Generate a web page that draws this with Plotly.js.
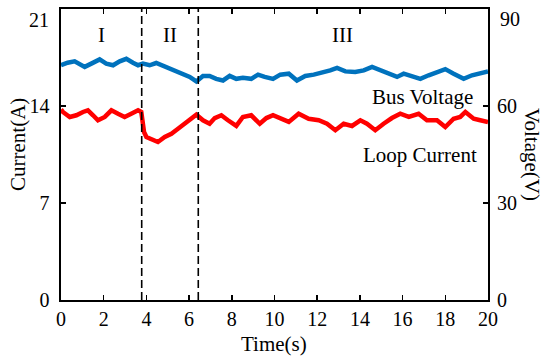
<!DOCTYPE html>
<html>
<head>
<meta charset="utf-8">
<script src="https://cdn.plot.ly/plotly-3.0.1.min.js"></script>
<style>html,body{margin:0;padding:0;background:#fff}#chart{width:550px;height:363px}</style>
</head>
<body>
<div id="chart"></div>
<script>
// Bus voltage (V)
const busTime = [0.0, 0.31, 0.64, 0.95, 1.11, 1.42, 1.81, 2.12, 2.44, 2.75, 3.06, 3.37, 3.61, 3.84, 4.15, 4.46, 4.78, 5.09, 5.40, 5.71, 6.03, 6.34, 6.65, 6.96, 7.27, 7.59, 7.90, 8.21, 8.52, 8.91, 9.23, 9.54, 9.93, 10.27, 10.67, 11.05, 11.44, 11.84, 12.22, 12.61, 12.93, 13.32, 13.78, 14.18, 14.57, 14.96, 15.35, 15.74, 16.05, 16.44, 16.83, 17.22, 17.61, 18.0, 18.39, 18.86, 19.25, 19.64, 20.0];
const busVoltage = [72.6, 73.4, 73.8, 72.8, 72.1, 73.1, 74.4, 73.1, 72.6, 73.8, 74.6, 73.4, 72.6, 73.1, 72.6, 73.3, 72.4, 71.5, 70.7, 70.0, 69.0, 67.6, 69.3, 69.3, 68.4, 67.9, 69.3, 68.4, 68.7, 68.4, 69.7, 69.0, 68.4, 69.7, 70.0, 67.9, 69.3, 69.7, 70.3, 71.0, 71.8, 70.7, 70.5, 71.0, 72.1, 71.0, 70.0, 69.0, 70.0, 69.3, 68.4, 69.5, 70.5, 71.4, 70.0, 68.4, 69.5, 70.3, 70.7];

// Loop current (A)
const loopTime = [0.0, 0.09, 0.41, 0.72, 1.03, 1.26, 1.50, 1.73, 2.05, 2.36, 2.67, 2.98, 3.29, 3.61, 3.76, 3.89, 4.0, 4.31, 4.54, 4.86, 5.17, 5.48, 5.79, 6.10, 6.34, 6.65, 6.96, 7.20, 7.51, 7.82, 8.21, 8.52, 8.91, 9.31, 9.62, 9.93, 10.27, 10.67, 11.13, 11.60, 12.07, 12.46, 12.85, 13.24, 13.63, 14.02, 14.33, 14.72, 15.11, 15.50, 15.89, 16.29, 16.75, 17.14, 17.61, 18.0, 18.39, 18.70, 18.94, 19.33, 19.64, 20.0];
const loopCurrent = [13.75, 13.57, 13.21, 13.33, 13.57, 13.69, 13.33, 12.97, 13.21, 13.69, 13.44, 13.21, 13.44, 13.69, 13.57, 12.12, 11.76, 11.60, 11.40, 11.76, 12.0, 12.36, 12.72, 13.08, 13.37, 12.97, 12.72, 13.13, 13.33, 12.97, 12.56, 13.21, 13.33, 12.72, 13.13, 13.33, 13.08, 12.85, 13.44, 13.08, 12.97, 12.72, 12.25, 12.72, 12.56, 12.97, 12.72, 12.25, 12.72, 13.13, 13.44, 13.21, 13.44, 12.97, 12.97, 12.48, 13.08, 13.21, 13.57, 13.08, 12.97, 12.85];

// Stage boundaries and labels
const stageBounds = [3.78, 6.43];
const stageLabels = ['I', 'II', 'III'];
const stageLabelX = [1.92, 5.1, 13.2];

const xTicks = [0, 2, 4, 6, 8, 10, 12, 14, 16, 18, 20];
const yTicks = [0, 7, 14, 21];
const y2Ticks = [0, 30, 60, 90];

const FONT = 'Liberation Serif, Times New Roman, serif';
const TXT = {family: FONT, size: 21, color: '#000'};
const TICK = {family: FONT, size: 20, color: '#000'};

const traces = [
  {x: busTime, y: busVoltage, yaxis: 'y2', type: 'scatter', mode: 'lines',
   line: {color: '#0072BD', width: 4.5}, hoverinfo: 'skip', showlegend: false},
  {x: loopTime, y: loopCurrent, type: 'scatter', mode: 'lines',
   line: {color: '#FF0000', width: 4.5}, hoverinfo: 'skip', showlegend: false}
];

const shapes = stageBounds.map(b => ({
  type: 'line', xref: 'x', yref: 'paper', x0: b, x1: b, y0: 0, y1: 1,
  line: {color: '#000', width: 1.6, dash: '8px,4px'}
}));

const L = 61, R = 62, T = 9, B = 63, W = 550, H = 363;
const pw = W - L - R, ph = H - T - B;
const px = v => (v - L) / pw;
const py = v => (H - B - v) / ph;

const annotations = stageLabels.map((t, i) => ({
  text: t, x: stageLabelX[i], y: 19.1, xref: 'x', yref: 'y', showarrow: false,
  xanchor: 'center', yanchor: 'middle', font: TXT
}));
annotations.push(
  {text: 'Bus Voltage', x: 16.95, y: 14.65, xref: 'x', yref: 'y', showarrow: false, xanchor: 'center', yanchor: 'middle', font: TXT},
  {text: 'Loop Current', x: 16.8, y: 10.46, xref: 'x', yref: 'y', showarrow: false, xanchor: 'center', yanchor: 'middle', font: TXT},
  {text: 'Current(A)', x: px(18), y: py(145), xref: 'paper', yref: 'paper', showarrow: false, textangle: -90, xanchor: 'center', yanchor: 'middle', font: TXT},
  {text: 'Voltage(V)', x: px(532), y: py(154), xref: 'paper', yref: 'paper', showarrow: false, textangle: 90, xanchor: 'center', yanchor: 'middle', font: TXT},
  {text: 'Time(s)', x: px(274), y: py(344), xref: 'paper', yref: 'paper', showarrow: false, xanchor: 'center', yanchor: 'middle', font: TXT},
  // top tick labels sit a little below the frame top in the reference
  {text: String(yTicks[3]), x: px(51), y: py(20), xref: 'paper', yref: 'paper', showarrow: false, xanchor: 'right', yanchor: 'middle', font: TICK},
  {text: String(y2Ticks[3]), x: px(498), y: py(19), xref: 'paper', yref: 'paper', showarrow: false, xanchor: 'left', yanchor: 'middle', font: TICK}
);

const layout = {
  width: W, height: H,
  margin: {l: L, r: R, t: T, b: B, pad: 0},
  paper_bgcolor: '#fff', plot_bgcolor: '#fff',
  font: TXT,
  xaxis: {range: [0, 20], tickvals: xTicks, ticktext: xTicks.map(String),
    showline: true, linecolor: '#000', linewidth: 1.6, mirror: 'ticks',
    ticks: 'inside', ticklen: 5, tickwidth: 1.5, tickcolor: '#000',
    showgrid: false, zeroline: false, tickfont: TICK, ticklabelstandoff: 0,
    ticklabeloverflow: 'allow'},
  yaxis: {range: [0, 21], tickvals: yTicks, ticktext: yTicks.map((v, i) => i === 3 ? '' : String(v)),
    showline: true, linecolor: '#000', linewidth: 1.6, mirror: 'ticks',
    ticks: 'inside', ticklen: 5, tickwidth: 1.5, tickcolor: '#000',
    showgrid: false, zeroline: false, tickfont: TICK, ticklabelstandoff: 6},
  yaxis2: {range: [0, 90], tickvals: y2Ticks, ticktext: y2Ticks.map((v, i) => i === 3 ? '' : String(v)),
    overlaying: 'y', side: 'right', showline: false, ticks: '',
    showgrid: false, zeroline: false, tickfont: TICK, ticklabelstandoff: 8},
  shapes: shapes,
  annotations: annotations,
  showlegend: false
};

Plotly.newPlot('chart', traces, layout, {staticPlot: true, displayModeBar: false});
</script>
</body>
</html>
